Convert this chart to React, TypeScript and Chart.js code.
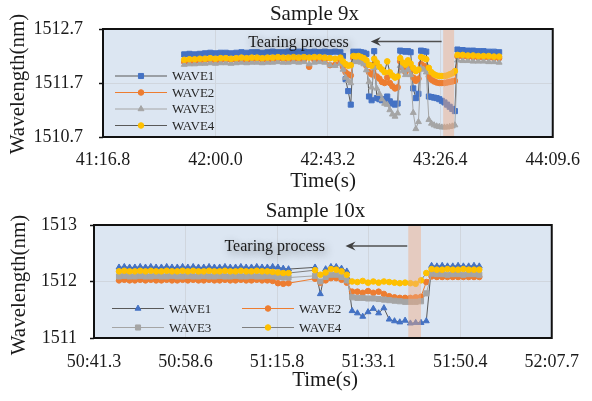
import { useEffect, useRef } from 'react';
import { Chart, registerables } from 'chart.js';

Chart.register(...registerables);

const FONT = '"Liberation Serif", "Times New Roman", Times, serif';
const PLOT_BG = '#dce6f2';
const GRID = '#d0d6de';
const BAND = 'rgba(240, 170, 130, 0.45)';
const INK = '#1a1a1a';

const BLUE = '#4472C4';
const ORANGE = '#ED7D31';
const GRAY = '#A5A5A5';
const YELLOW = '#FFC000';

// ---------- Sample 9x (time in seconds) ----------
const time9 = [
  2508, 2510, 2512, 2514, 2516, 2518, 2520, 2522, 2524, 2526, 2528, 2530, 2532, 2534, 2536,
  2538, 2540, 2542, 2544, 2546, 2548, 2550, 2552, 2554, 2556, 2558, 2560, 2562, 2564, 2566,
  2568, 2569, 2570, 2571, 2572, 2573, 2574, 2575, 2576, 2577, 2578, 2579, 2580, 2581, 2582,
  2583, 2584, 2585, 2586, 2587, 2588, 2589, 2590, 2591, 2592, 2593, 2594, 2595, 2596, 2597,
  2598, 2599, 2600, 2601, 2602, 2603, 2604, 2605, 2606, 2607, 2608, 2609, 2610, 2611, 2612,
  2613, 2615, 2617, 2619, 2621, 2623, 2625, 2627, 2629,
];
const wave1_9 = [
  1512.23, 1512.24, 1512.23, 1512.24, 1512.25, 1512.26, 1512.25, 1512.26, 1512.26, 1512.25,
  1512.26, 1512.27, 1512.26, 1512.27, 1512.27, 1512.26, 1512.27, 1512.28, 1512.27, 1512.27,
  1512.28, 1512.27, 1512.28, 1512.28, 1512.27, 1512.28, 1512.27, 1512.28, 1512.27, 1512.28,
  1512.27, 1512.20, 1511.77, 1511.55, 1511.30, 1512.28, 1512.27, 1512.28, 1512.27, 1512.26,
  1512.24, 1511.45, 1511.38, 1512.29, 1511.42, 1511.40, 1511.38, 1511.40, 1511.45, 1511.36,
  1511.32, 1511.30, 1511.32, 1512.30, 1512.29, 1512.28, 1512.29, 1512.27, 1511.60, 1511.42,
  1511.50, 1512.30, 1512.29, 1512.28, 1511.45, 1511.44, 1511.43, 1511.42, 1511.40, 1511.37,
  1511.34, 1511.30, 1511.26, 1511.22, 1511.18,
  1512.32, 1512.31, 1512.30, 1512.30, 1512.29, 1512.29, 1512.28, 1512.28, 1512.27,
];
const wave2_9 = [
  1512.09, 1512.10, 1512.10, 1512.11, 1512.12, 1512.12, 1512.11, 1512.12, 1512.13, 1512.12,
  1512.13, 1512.13, 1512.12, 1512.13, 1512.14, 1512.13, 1512.14, 1512.13, 1512.14, 1512.14,
  1512.13, 1512.14, 1512.14, 1512.13, 1512.00, 1512.13, 1512.14, 1512.13, 1512.03, 1512.04,
  1512.12, 1512.00, 1511.90, 1511.86, 1511.84, 1512.16, 1512.15, 1512.15, 1512.14, 1512.12,
  1512.02, 1511.90, 1511.86, 1512.05, 1511.82, 1511.78, 1511.72, 1511.70, 1511.80, 1511.70,
  1511.64, 1511.60, 1511.62, 1512.10, 1511.98, 1511.90, 1512.02, 1511.95, 1511.80, 1511.74,
  1511.78, 1512.05, 1512.02, 1511.98, 1511.82, 1511.76, 1511.73, 1511.71, 1511.70, 1511.70,
  1511.70, 1511.71, 1511.72, 1511.73, 1511.74,
  1512.19, 1512.19, 1512.18, 1512.18, 1512.17, 1512.17, 1512.17, 1512.16, 1512.16,
];
const wave3_9 = [
  1512.04, 1512.05, 1512.05, 1512.06, 1512.06, 1512.07, 1512.06, 1512.07, 1512.07, 1512.06,
  1512.07, 1512.08, 1512.07, 1512.08, 1512.08, 1512.07, 1512.08, 1512.08, 1512.09, 1512.08,
  1512.08, 1512.09, 1512.08, 1512.09, 1512.05, 1512.08, 1512.09, 1512.08, 1512.03, 1512.02,
  1512.06, 1511.95, 1511.80, 1511.74, 1511.70, 1512.10, 1512.09, 1512.10, 1512.08, 1512.05,
  1511.94, 1511.72, 1511.62, 1511.98, 1511.60, 1511.50, 1511.40, 1511.32, 1511.30, 1511.20,
  1511.12, 1511.08, 1511.14, 1512.02, 1511.92, 1511.85, 1511.95, 1511.85, 1511.15, 1510.85,
  1510.98, 1511.98, 1511.95, 1511.90, 1511.02, 1510.95, 1510.92, 1510.90, 1510.89, 1510.88,
  1510.88, 1510.88, 1510.89, 1510.90, 1510.92,
  1512.12, 1512.11, 1512.11, 1512.10, 1512.10, 1512.10, 1512.09, 1512.09, 1512.08,
];
const wave4_9 = [
  1512.13, 1512.14, 1512.14, 1512.15, 1512.15, 1512.16, 1512.15, 1512.16, 1512.16, 1512.15,
  1512.16, 1512.17, 1512.16, 1512.17, 1512.17, 1512.16, 1512.17, 1512.17, 1512.18, 1512.17,
  1512.17, 1512.18, 1512.17, 1512.18, 1512.17, 1512.18, 1512.18, 1512.17, 1512.16, 1512.15,
  1512.17, 1512.10, 1512.05, 1512.02, 1512.03, 1512.20, 1512.19, 1512.20, 1512.18, 1512.16,
  1512.12, 1512.04, 1512.02, 1512.15, 1512.08, 1512.00, 1511.95, 1511.90, 1512.10, 1511.90,
  1511.84, 1511.80, 1511.82, 1512.16, 1512.08, 1512.04, 1512.12, 1512.06, 1511.98, 1511.92,
  1511.95, 1512.18, 1512.16, 1512.14, 1511.98, 1511.90, 1511.86, 1511.84, 1511.83, 1511.83,
  1511.83, 1511.84, 1511.86, 1511.88, 1511.92,
  1512.22, 1512.22, 1512.21, 1512.21, 1512.20, 1512.20, 1512.20, 1512.19, 1512.19,
];
const xTicks9 = [2476.8, 2520.0, 2563.2, 2606.4, 2649.6];
const yTicks9 = [1510.7, 1511.7, 1512.7];
const tear9 = { bandFrom: 2607.5, bandTo: 2611.7, arrowFrom: 2606.9, arrowTo: 2579.7, labelAt: 2551.9, level: 1512.47 };

// ---------- Sample 10x (time in seconds) ----------
const time10 = [
  3046, 3047, 3048, 3049, 3050, 3051, 3052, 3053, 3054, 3055, 3056, 3057, 3058, 3059, 3060,
  3061, 3062, 3063, 3064, 3065, 3066, 3067, 3068, 3069, 3070, 3071, 3072, 3073, 3074, 3075,
  3076, 3077, 3078,
  3083, 3084, 3085, 3086, 3087, 3088, 3089, 3090, 3091, 3092, 3093, 3094, 3095, 3096, 3097,
  3098, 3099, 3100, 3101, 3102, 3103, 3104, 3105, 3106, 3107, 3108, 3109, 3110, 3111, 3112,
  3113, 3114,
];
const wave1_10 = [
  1512.25, 1512.26, 1512.25, 1512.25, 1512.26, 1512.25, 1512.26, 1512.25, 1512.25, 1512.26,
  1512.25, 1512.25, 1512.26, 1512.25, 1512.26, 1512.25, 1512.25, 1512.26, 1512.25, 1512.25,
  1512.26, 1512.25, 1512.25, 1512.26, 1512.25, 1512.25, 1512.26, 1512.25, 1512.25, 1512.26,
  1512.25, 1512.23, 1512.22,
  1512.25, 1511.78, 1512.22, 1512.26, 1512.26, 1512.23, 1512.18,
  1511.48, 1511.44, 1511.38, 1511.46, 1511.52, 1511.44, 1511.53, 1511.33, 1511.30, 1511.28,
  1511.31, 1511.26, 1511.27, 1511.27, 1511.30,
  1512.28, 1512.27, 1512.28, 1512.27, 1512.27, 1512.28, 1512.27, 1512.27, 1512.28, 1512.27,
];
const wave2_10 = [
  1512.02, 1512.03, 1512.02, 1512.02, 1512.03, 1512.02, 1512.03, 1512.02, 1512.02, 1512.03,
  1512.02, 1512.02, 1512.03, 1512.02, 1512.03, 1512.02, 1512.02, 1512.03, 1512.02, 1512.02,
  1512.03, 1512.02, 1512.02, 1512.03, 1512.02, 1512.02, 1512.03, 1512.02, 1512.02, 1512.01,
  1511.97, 1511.96, 1511.97,
  1512.05, 1511.98, 1512.02, 1512.06, 1512.06, 1512.03, 1511.98,
  1511.82, 1511.82, 1511.80, 1511.83, 1511.80, 1511.82, 1511.78, 1511.74, 1511.72, 1511.71,
  1511.71, 1511.71, 1511.72, 1511.73, 1511.99,
  1512.09, 1512.08, 1512.08, 1512.08, 1512.08, 1512.08, 1512.08, 1512.08, 1512.08, 1512.08,
];
const wave3_10 = [
  1512.09, 1512.10, 1512.09, 1512.09, 1512.10, 1512.09, 1512.09, 1512.10, 1512.09, 1512.09,
  1512.10, 1512.09, 1512.09, 1512.10, 1512.09, 1512.09, 1512.10, 1512.09, 1512.09, 1512.10,
  1512.09, 1512.09, 1512.10, 1512.09, 1512.09, 1512.10, 1512.09, 1512.09, 1512.10, 1512.09,
  1512.08, 1512.07, 1512.07,
  1512.10, 1512.00, 1512.08, 1512.12, 1512.12, 1512.08, 1512.02,
  1511.72, 1511.71, 1511.71, 1511.70, 1511.70, 1511.69, 1511.68, 1511.67, 1511.66, 1511.65,
  1511.64, 1511.64, 1511.64, 1511.65, 1511.79,
  1512.14, 1512.13, 1512.13, 1512.12, 1512.13, 1512.13, 1512.12, 1512.13, 1512.13, 1512.12,
];
const wave4_10 = [
  1512.18, 1512.19, 1512.18, 1512.18, 1512.19, 1512.18, 1512.19, 1512.18, 1512.18, 1512.19,
  1512.18, 1512.18, 1512.19, 1512.18, 1512.19, 1512.18, 1512.18, 1512.19, 1512.18, 1512.18,
  1512.19, 1512.18, 1512.18, 1512.19, 1512.18, 1512.18, 1512.19, 1512.18, 1512.18, 1512.17,
  1512.16, 1512.15, 1512.15,
  1512.20, 1512.12, 1512.16, 1512.22, 1512.21, 1512.18, 1512.12,
  1512.00, 1511.99, 1512.01, 1511.98, 1512.00, 1511.98, 1512.00, 1511.99, 1511.98, 1511.97,
  1511.98, 1511.97, 1511.96, 1512.02, 1512.15,
  1512.22, 1512.21, 1512.21, 1512.22, 1512.21, 1512.21, 1512.22, 1512.21, 1512.21, 1512.21,
];
const xTicks10 = [3041.28, 3058.56, 3075.84, 3093.12, 3110.4, 3127.68];
const yTicks10 = [1511, 1512, 1513];
const tear10 = { bandFrom: 3100.6, bandTo: 3103.0, arrowFrom: 3100.4, arrowTo: 3088.75, labelAt: 3075.4, level: 1512.63 };

type Marker = 'rect' | 'circle' | 'triangle';
interface SeriesSpec { label: string; values: number[]; fill: string; line: string; marker: Marker; radius: number }
interface TearSpec { bandFrom: number; bandTo: number; arrowFrom: number; arrowTo: number; labelAt: number; level: number }
interface PanelSpec {
  title: string;
  height: number;
  area: { left: number; top: number; right: number; bottom: number };
  times: number[];
  series: SeriesSpec[];
  xTicks: number[];
  yTicks: number[];
  yDigits: number;
  yTickPad: number;
  xTickPad: number;
  tear: TearSpec;
  legend: { x: number; y: number }[];
  titleAt: [number, number];
  xTitleAt: [number, number];
  yTitleAt: [number, number];
}

const panel9: PanelSpec = {
  title: 'Sample 9x',
  height: 200,
  area: { left: 103, top: 29, right: 563, bottom: 137 },
  times: time9,
  series: [
    { label: 'WAVE1', values: wave1_9, fill: BLUE, line: '#595959', marker: 'rect', radius: 3.6 },
    { label: 'WAVE2', values: wave2_9, fill: ORANGE, line: ORANGE, marker: 'circle', radius: 2.8 },
    { label: 'WAVE3', values: wave3_9, fill: GRAY, line: GRAY, marker: 'triangle', radius: 3.4 },
    { label: 'WAVE4', values: wave4_9, fill: YELLOW, line: '#595959', marker: 'circle', radius: 2.8 },
  ],
  xTicks: xTicks9,
  yTicks: yTicks9,
  yDigits: 1,
  yTickPad: 16,
  xTickPad: 12,
  tear: tear9,
  legend: [{ x: 115, y: 76 }, { x: 115, y: 92.5 }, { x: 115, y: 109 }, { x: 115, y: 125.5 }],
  titleAt: [314.5, 14],
  xTitleAt: [323, 181],
  yTitleAt: [18.5, 84],
};

const panel10: PanelSpec = {
  title: 'Sample 10x',
  height: 201,
  area: { left: 94, top: 25, right: 563, bottom: 138 },
  times: time10,
  series: [
    { label: 'WAVE1', values: wave1_10, fill: BLUE, line: '#595959', marker: 'triangle', radius: 3.4 },
    { label: 'WAVE2', values: wave2_10, fill: ORANGE, line: ORANGE, marker: 'circle', radius: 2.8 },
    { label: 'WAVE3', values: wave3_10, fill: GRAY, line: GRAY, marker: 'rect', radius: 3.6 },
    { label: 'WAVE4', values: wave4_10, fill: YELLOW, line: '#7f7f7f', marker: 'circle', radius: 2.8 },
  ],
  xTicks: xTicks10,
  yTicks: yTicks10,
  yDigits: 0,
  yTickPad: 13,
  xTickPad: 13,
  tear: tear10,
  legend: [{ x: 112, y: 108.5 }, { x: 242, y: 108.5 }, { x: 112, y: 127.5 }, { x: 242, y: 127.5 }],
  titleAt: [315.5, 11],
  xTitleAt: [325, 180],
  yTitleAt: [19, 85],
};

function fmtTime(sec: number): string {
  const m = Math.floor(sec / 60 + 1e-9);
  const s = (sec - m * 60).toFixed(1).padStart(4, '0');
  return `${m}:${s}`;
}

function markerPath(ctx: CanvasRenderingContext2D, style: Marker, x: number, y: number, r: number) {
  ctx.beginPath();
  if (style === 'rect') {
    const h = r * Math.SQRT1_2;
    ctx.rect(x - h, y - h, 2 * h, 2 * h);
  } else if (style === 'triangle') {
    for (let k = 0; k < 3; k++) {
      const ang = (k * 2 * Math.PI) / 3;
      const px = x + Math.sin(ang) * r;
      const py = y - Math.cos(ang) * r;
      if (k === 0) ctx.moveTo(px, py);
      else ctx.lineTo(px, py);
    }
    ctx.closePath();
  } else {
    ctx.arc(x, y, r, 0, Math.PI * 2);
  }
}

function makeDecor(spec: PanelSpec) {
  return {
    id: 'panelDecor',
    beforeDraw(chart: Chart) {
      const { ctx, chartArea: a } = chart;
      ctx.save();
      ctx.fillStyle = '#ffffff';
      ctx.fillRect(0, 0, chart.width, chart.height);
      ctx.fillStyle = PLOT_BG;
      ctx.fillRect(a.left, a.top, a.right - a.left, a.bottom - a.top);
      ctx.restore();
    },
    afterDatasetsDraw(chart: Chart) {
      const { ctx, chartArea: a } = chart;
      const xs = chart.scales.x;
      const ys = chart.scales.y;
      const t = spec.tear;

      // shaded tearing interval
      ctx.save();
      const b0 = xs.getPixelForValue(t.bandFrom);
      const b1 = xs.getPixelForValue(t.bandTo);
      ctx.fillStyle = BAND;
      ctx.fillRect(b0, a.top, b1 - b0, a.bottom - a.top);

      // arrow pointing back in time
      const ay = ys.getPixelForValue(t.level);
      const ax0 = xs.getPixelForValue(t.arrowFrom);
      const ax1 = xs.getPixelForValue(t.arrowTo);
      ctx.strokeStyle = '#505050';
      ctx.fillStyle = '#404040';
      ctx.lineWidth = 1.5;
      ctx.beginPath();
      ctx.moveTo(ax0, ay);
      ctx.lineTo(ax1 + 6, ay);
      ctx.stroke();
      ctx.beginPath();
      ctx.moveTo(ax1, ay);
      ctx.lineTo(ax1 + 10, ay - 4.5);
      ctx.lineTo(ax1 + 6.5, ay);
      ctx.lineTo(ax1 + 10, ay + 4.5);
      ctx.closePath();
      ctx.fill();

      // caption with a soft shadow
      ctx.font = `16px ${FONT}`;
      ctx.textAlign = 'center';
      ctx.textBaseline = 'middle';
      ctx.shadowColor = 'rgba(0,0,0,0.45)';
      ctx.shadowBlur = 9;
      ctx.shadowOffsetX = 2;
      ctx.shadowOffsetY = 3;
      ctx.fillStyle = INK;
      ctx.fillText('Tearing process', xs.getPixelForValue(t.labelAt), ay + 1);
      ctx.restore();

      // plot frame
      ctx.save();
      ctx.strokeStyle = '#111111';
      ctx.lineWidth = 2;
      ctx.strokeRect(a.left, a.top, a.right - a.left, a.bottom - a.top);
      ctx.restore();

      // legend: line + marker + name for each series
      ctx.save();
      ctx.font = `13px ${FONT}`;
      ctx.textAlign = 'left';
      ctx.textBaseline = 'middle';
      spec.series.forEach((s, i) => {
        const pos = spec.legend[i];
        ctx.strokeStyle = s.line;
        ctx.lineWidth = 1.2;
        ctx.beginPath();
        ctx.moveTo(pos.x, pos.y);
        ctx.lineTo(pos.x + 52, pos.y);
        ctx.stroke();
        ctx.fillStyle = s.fill;
        ctx.strokeStyle = s.fill;
        ctx.lineWidth = 1;
        markerPath(ctx, s.marker, pos.x + 26, pos.y, s.radius);
        ctx.fill();
        ctx.stroke();
        ctx.fillStyle = '#262626';
        ctx.fillText(s.label, pos.x + 57, pos.y + 1);
      });
      ctx.restore();
    },
    afterDraw(chart: Chart) {
      const { ctx } = chart;
      ctx.save();
      ctx.fillStyle = INK;
      ctx.font = `21px ${FONT}`;
      ctx.textAlign = 'center';
      ctx.textBaseline = 'middle';
      ctx.fillText(spec.title, spec.titleAt[0], spec.titleAt[1]);
      ctx.fillText('Time(s)', spec.xTitleAt[0], spec.xTitleAt[1]);
      ctx.translate(spec.yTitleAt[0], spec.yTitleAt[1]);
      ctx.rotate(-Math.PI / 2);
      ctx.fillText('Wavelength(nm)', 0, 0);
      ctx.restore();
    },
  };
}

function Panel({ spec }: { spec: PanelSpec }) {
  const ref = useRef<HTMLCanvasElement>(null);

  useEffect(() => {
    const canvas = ref.current;
    if (!canvas) return;
    const n = spec.series.length;
    const chart = new Chart(canvas, {
      type: 'line',
      data: {
        datasets: spec.series.map((s, i) => ({
          label: s.label,
          data: spec.times.map((tm, k) => ({ x: tm, y: s.values[k] })),
          borderColor: s.line,
          borderWidth: 1,
          backgroundColor: s.fill,
          pointStyle: s.marker,
          pointRadius: s.radius,
          pointBackgroundColor: s.fill,
          pointBorderColor: s.fill,
          pointBorderWidth: 1,
          tension: 0,
          fill: false,
          order: n - i,
        })),
      },
      options: {
        responsive: false,
        animation: false,
        devicePixelRatio: 1,
        layout: {
          padding: { left: 0, top: spec.area.top, right: 592 - spec.area.right, bottom: 0 },
        },
        plugins: {
          legend: { display: false },
          tooltip: { enabled: false },
          title: { display: false },
        },
        scales: {
          x: {
            type: 'linear',
            min: spec.xTicks[0],
            max: spec.xTicks[spec.xTicks.length - 1],
            afterBuildTicks: (axis: any) => {
              axis.ticks = spec.xTicks.map((value) => ({ value }));
            },
            afterFit: (axis: any) => {
              axis.height = spec.height - spec.area.bottom;
            },
            ticks: {
              font: { family: FONT, size: 18 },
              color: INK,
              padding: spec.xTickPad,
              maxRotation: 0,
              autoSkip: false,
              callback: (v: any) => fmtTime(Number(v)),
            },
            grid: { color: GRID, lineWidth: 1, drawTicks: false },
            border: { display: false },
          },
          y: {
            type: 'linear',
            min: spec.yTicks[0],
            max: spec.yTicks[spec.yTicks.length - 1],
            afterBuildTicks: (axis: any) => {
              axis.ticks = spec.yTicks.map((value) => ({ value }));
            },
            afterFit: (axis: any) => {
              axis.width = spec.area.left;
            },
            ticks: {
              font: { family: FONT, size: 18 },
              color: INK,
              padding: spec.yTickPad,
              callback: (v: any) => Number(v).toFixed(spec.yDigits),
            },
            grid: { color: GRID, lineWidth: 1, tickColor: '#111111', tickLength: 4, tickWidth: 1.5 },
            border: { display: false },
          },
        },
      },
      plugins: [makeDecor(spec)],
    });
    return () => chart.destroy();
  }, [spec]);

  return <canvas ref={ref} width={592} height={spec.height} style={{ display: 'block' }} />;
}

export default function App() {
  return (
    <div style={{ position: 'absolute', left: 0, top: 0, width: 592, height: 401, background: '#ffffff' }}>
      <Panel spec={panel9} />
      <Panel spec={panel10} />
    </div>
  );
}
